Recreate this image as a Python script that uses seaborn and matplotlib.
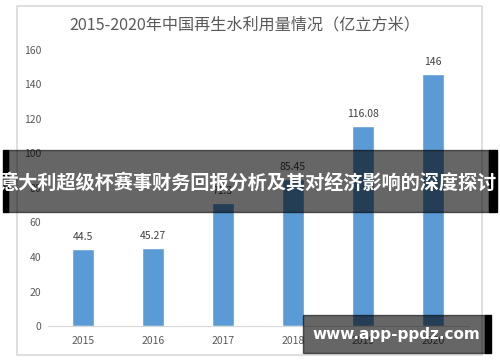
import matplotlib
matplotlib.use("Agg")
import matplotlib.pyplot as plt
import seaborn as sns
import pandas as pd
from matplotlib.patches import Rectangle

# datos
anios = ["2015", "2016", "2017", "2018", "2019", "2020"]
valores = [44.5, 45.27, 71.3, 85.45, 116.08, 146]
etiquetas = ["44.5", "45.27", "71.3", "85.45", "116.08", "146"]

titulo = "2015-2020年中国再生水利用量情况（亿立方米）"
banner = "意大利超级杯赛事财务回报分析及其对经济影响的深度探讨"
marca = "www.app-ppdz.com"

sns.set_style("white")
plt.rcParams['font.family'] = ['Noto Sans CJK SC', 'DejaVu Sans']

df = pd.DataFrame({"anio": anios, "valor": valores})

fig = plt.figure(figsize=(5, 3.62), dpi=100)

# marco gris claro del grafico
fig.patches.append(Rectangle((17 / 500, 1 - 355 / 362), 465 / 500, 349 / 362,
                             transform=fig.transFigure, fill=False,
                             edgecolor="#d9d9d9", linewidth=1.2, zorder=0))

ax = fig.add_axes([0.096, 0.0994, 0.84, 0.7627])
sns.barplot(data=df, x="anio", y="valor", color="#5b9bd5", width=0.31,
            saturation=1, ax=ax)
ax.set_xlim(-0.5, 5.5)
ax.set_ylim(0, 160)
ax.set_yticks(range(0, 161, 20))
ax.set_xlabel("")
ax.set_ylabel("")
for lado in ["top", "right", "left"]:
    ax.spines[lado].set_visible(False)
ax.spines["bottom"].set_color("#d9d9d9")
ax.tick_params(axis="both", length=0, labelsize=7.5, colors="#595959")
ax.tick_params(axis="y", pad=5)
ax.tick_params(axis="x", pad=7)
ax.bar_label(ax.containers[0], labels=etiquetas, padding=5, fontsize=7.5,
             color="#404040")

fig.text(0.49, 1 - 25 / 362, titulo, ha="center", va="center",
         fontsize=11.6, color="#595959")

# franja oscura con el texto encima
fig.patches.append(Rectangle((8 / 500, 1 - 212 / 362), 481 / 500, 62 / 362,
                             transform=fig.transFigure, color="black",
                             alpha=0.6, zorder=5))
fig.patches.append(Rectangle((3 / 500, 1 - 212 / 362), 5 / 500, 62 / 362,
                             transform=fig.transFigure, color="black", zorder=5))
fig.patches.append(Rectangle((489 / 500, 1 - 212 / 362), 8 / 500, 62 / 362,
                             transform=fig.transFigure, color="black", zorder=5))
fig.text(248 / 500, 1 - 183 / 362, banner, ha="center", va="center",
         fontsize=13.8, color="white", fontweight="bold", zorder=6)

# marca de agua abajo a la derecha
fig.patches.append(Rectangle((303 / 500, 1 - 353 / 362), 182 / 500, 38 / 362,
                             transform=fig.transFigure, color="black",
                             alpha=0.6, zorder=5))
fig.patches.append(Rectangle((485 / 500, 1 - 353 / 362), 6 / 500, 38 / 362,
                             transform=fig.transFigure, color="black", zorder=5))
fig.text(396 / 500, 1 - 335 / 362, marca, ha="center", va="center",
         fontsize=11, color="white", fontweight="bold",
         family="DejaVu Sans", zorder=6)

plt.savefig("out.png", dpi=100)
